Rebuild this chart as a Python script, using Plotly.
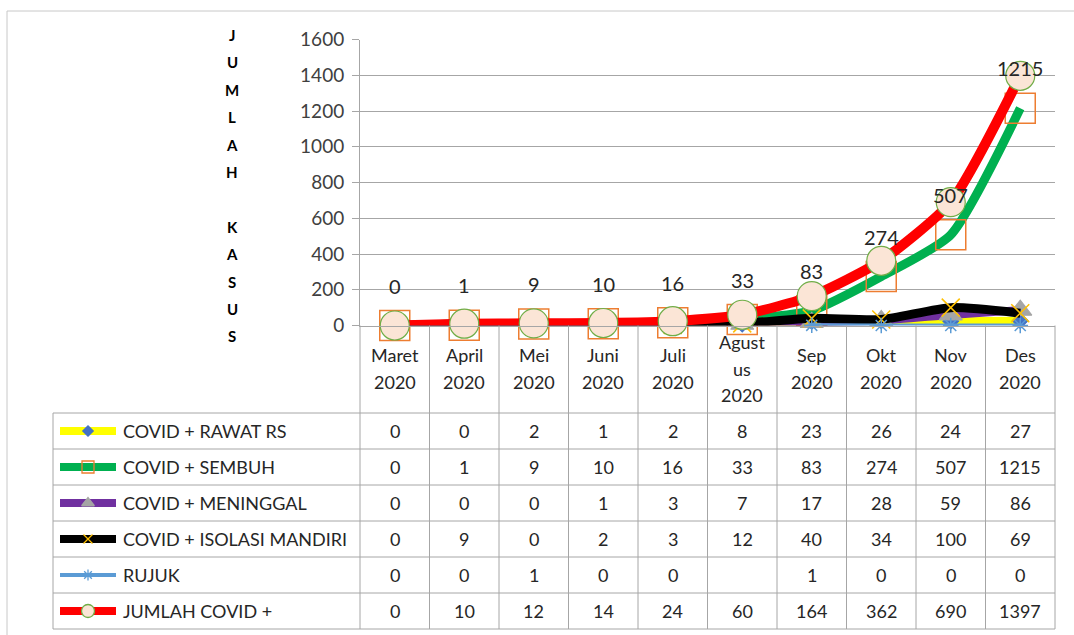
"""
COVID-19 case counts per month (Maret - Des 2020), Excel-style line chart with data table
"""
import plotly.graph_objects as go

W, H = 1074, 635

# data
months = ["Maret<br>2020", "April<br>2020", "Mei<br>2020", "Juni<br>2020", "Juli<br>2020",
          "Agust<br>us<br>2020", "Sep<br>2020", "Okt<br>2020", "Nov<br>2020", "Des<br>2020"]
rawat_rs = [0, 0, 2, 1, 2, 8, 23, 26, 24, 27]
sembuh = [0, 1, 9, 10, 16, 33, 83, 274, 507, 1215]
meninggal = [0, 0, 0, 1, 3, 7, 17, 28, 59, 86]
isolasi = [0, 9, 0, 2, 3, 12, 40, 34, 100, 69]
rujuk = [0, 0, 1, 0, 0, None, 1, 0, 0, 0]
jumlah = [0, 10, 12, 14, 24, 60, 164, 362, 690, 1397]
y_ticks = [0, 200, 400, 600, 800, 1000, 1200, 1400, 1600]
y_title = "JUMLAH KASUS"

# series styling: name, values, line colour, line width, marker symbol, marker size,
# marker fill, marker line colour, legend marker size
series = [
    ("COVID + RAWAT RS", rawat_rs, "#FFFF00", 8, "diamond", 12, "#4472C4", "#4472C4", 8),
    ("COVID + SEMBUH", sembuh, "#00B050", 9, "square-open", 30, "#ED7D31", "#ED7D31", 12),
    ("COVID + MENINGGAL", meninggal, "#7030A0", 8, "triangle-up", 20, "#A5A5A5", "#A5A5A5", 11),
    ("COVID + ISOLASI MANDIRI", isolasi, "#000000", 9, "x-thin-open", 18, "#FFC000", "#FFC000", 9),
    ("RUJUK", rujuk, "#5B9BD5", 4, "asterisk-open", 13, "#5B9BD5", "#5B9BD5", 9),
    ("JUMLAH COVID +", jumlah, "#FF0000", 10, "circle", 29, "#FBE5D6", "#70AD47", 13),
]

FONT = "Lato"
TXT = "#262626"
GRID = "#A6A6A6"


def px(x):
    return x / W


def py(y):
    return 1 - y / H


def label(x, y, text, xref="paper", size=18, **kw):
    d = dict(x=x, y=y, xref=xref, yref="paper", text=text, showarrow=False,
             xanchor="center", yanchor="middle",
             font=dict(family=FONT, size=size, color=TXT))
    d.update(kw)
    return d


# plot area in pixels
PL, PR, PT, PB = 360, 1055, 39.5, 325.5
n = len(months)
col_w = (PR - PL) / n
rows = [413 + 36 * i for i in range(len(series) + 1)]

fig = go.Figure()

for name, vals, lc, lw, sym, ms, mfill, mline, _ in series:
    open_sym = sym.endswith("-open")
    fig.add_trace(go.Scatter(
        x=list(range(n)), y=vals, name=name, mode="lines+markers",
        line=dict(color=lc, width=lw, shape="spline", smoothing=0.6),
        marker=dict(symbol=sym, size=ms, color=mfill,
                    line=dict(color=mline, width=1.5 if open_sym else 1.2)),
        showlegend=False, cliponaxis=False,
    ))

# data labels (values of COVID + SEMBUH, above its points)
annotations = []
for i, v in enumerate(sembuh):
    annotations.append(dict(x=i, y=v, xref="x", yref="y", text=str(v), showarrow=False,
                            xanchor="center", yanchor="middle", yshift=40,
                            font=dict(family=FONT, size=20, color=TXT)))

# y-axis title, one letter per line
for i, ch in enumerate(y_title):
    if ch == " ":
        continue
    annotations.append(label(px(232), py(35 + i * 27.4), f"<b>{ch}</b>",
                             font=dict(family=FONT, size=15, color="#000000")))

# category labels under the axis
for i, lab in enumerate(months):
    parts = lab.split("<br>")
    top = 368.5 - (len(parts) - 1) * 26.5 / 2
    for k, p in enumerate(parts):
        annotations.append(label(i, py(top + k * 26.5), p, xref="x"))

# data table: names and values
for r, (name, vals, *_rest) in enumerate(series):
    yc = py((rows[r] + rows[r + 1]) / 2)
    annotations.append(label(px(121), yc, name, xanchor="left"))
    for i, v in enumerate(vals):
        if v is None:
            continue
        annotations.append(label(i, yc, str(v), xref="x"))

# legend keys in the table (overlay axes in pixel units)
for r, (name, vals, lc, lw, sym, ms, mfill, mline, lms) in enumerate(series):
    yc = (rows[r] + rows[r + 1]) / 2
    fig.add_trace(go.Scatter(
        x=[60, 116], y=[yc, yc], xaxis="x2", yaxis="y2", mode="lines",
        line=dict(color=lc, width=min(lw, 8) if lw > 4 else 4),
        showlegend=False, hoverinfo="skip"))
    fig.add_trace(go.Scatter(
        x=[88], y=[yc], xaxis="x2", yaxis="y2", mode="markers",
        marker=dict(symbol=sym, size=lms, color=mfill,
                    line=dict(color=mline, width=1.3)),
        showlegend=False, hoverinfo="skip"))

# table grid and frame
shapes = []
line = dict(color=GRID, width=1)
for y in rows:
    shapes.append(dict(type="line", xref="paper", yref="paper", x0=px(53), x1=px(PR),
                       y0=py(y), y1=py(y), line=line))
shapes.append(dict(type="line", xref="paper", yref="paper", x0=px(53), x1=px(53),
                   y0=py(rows[0]), y1=py(rows[-1]), line=line))
for i in range(n + 1):
    x = PL + i * col_w
    shapes.append(dict(type="line", xref="paper", yref="paper", x0=px(x), x1=px(x),
                       y0=py(PB), y1=py(rows[-1]), line=line))
# outer chart border
shapes.append(dict(type="line", xref="paper", yref="paper", x0=px(7), x1=px(7),
                   y0=py(11), y1=0, line=dict(color="#C8C8C8", width=1)))
shapes.append(dict(type="line", xref="paper", yref="paper", x0=px(7), x1=1,
                   y0=py(11), y1=py(11), line=dict(color="#C8C8C8", width=1)))

fig.update_layout(
    width=W, height=H,
    margin=dict(l=0, r=0, t=0, b=0, pad=0, autoexpand=False),
    paper_bgcolor="white",
    plot_bgcolor="rgba(0,0,0,0)",
    font=dict(family=FONT, color=TXT),
    xaxis=dict(domain=[px(PL), px(PR)], range=[-0.5, n - 0.5], showticklabels=False,
               showgrid=False, zeroline=False, showline=True, linecolor=GRID, linewidth=1,
               ticks="", fixedrange=True, automargin=False),
    yaxis=dict(domain=[py(PB), py(PT)], range=[0, 1600], tickvals=y_ticks,
               showgrid=True, gridcolor=GRID, gridwidth=1, zeroline=False,
               showline=True, linecolor=GRID, linewidth=1, ticks="outside",
               ticklen=7, tickcolor=GRID, ticklabelstandoff=4, automargin=False,
               tickfont=dict(family=FONT, size=19, color="#404040"), fixedrange=True),
    xaxis2=dict(domain=[0, 1], range=[0, W], visible=False, anchor="y2",
                fixedrange=True, automargin=False),
    yaxis2=dict(domain=[0, 1], range=[H, 0], visible=False, anchor="x2",
                fixedrange=True, automargin=False),
    annotations=annotations,
    shapes=shapes,
)

fig.write_html("out.html", config={"displayModeBar": False},
               post_script="document.body.style.margin='0';")
